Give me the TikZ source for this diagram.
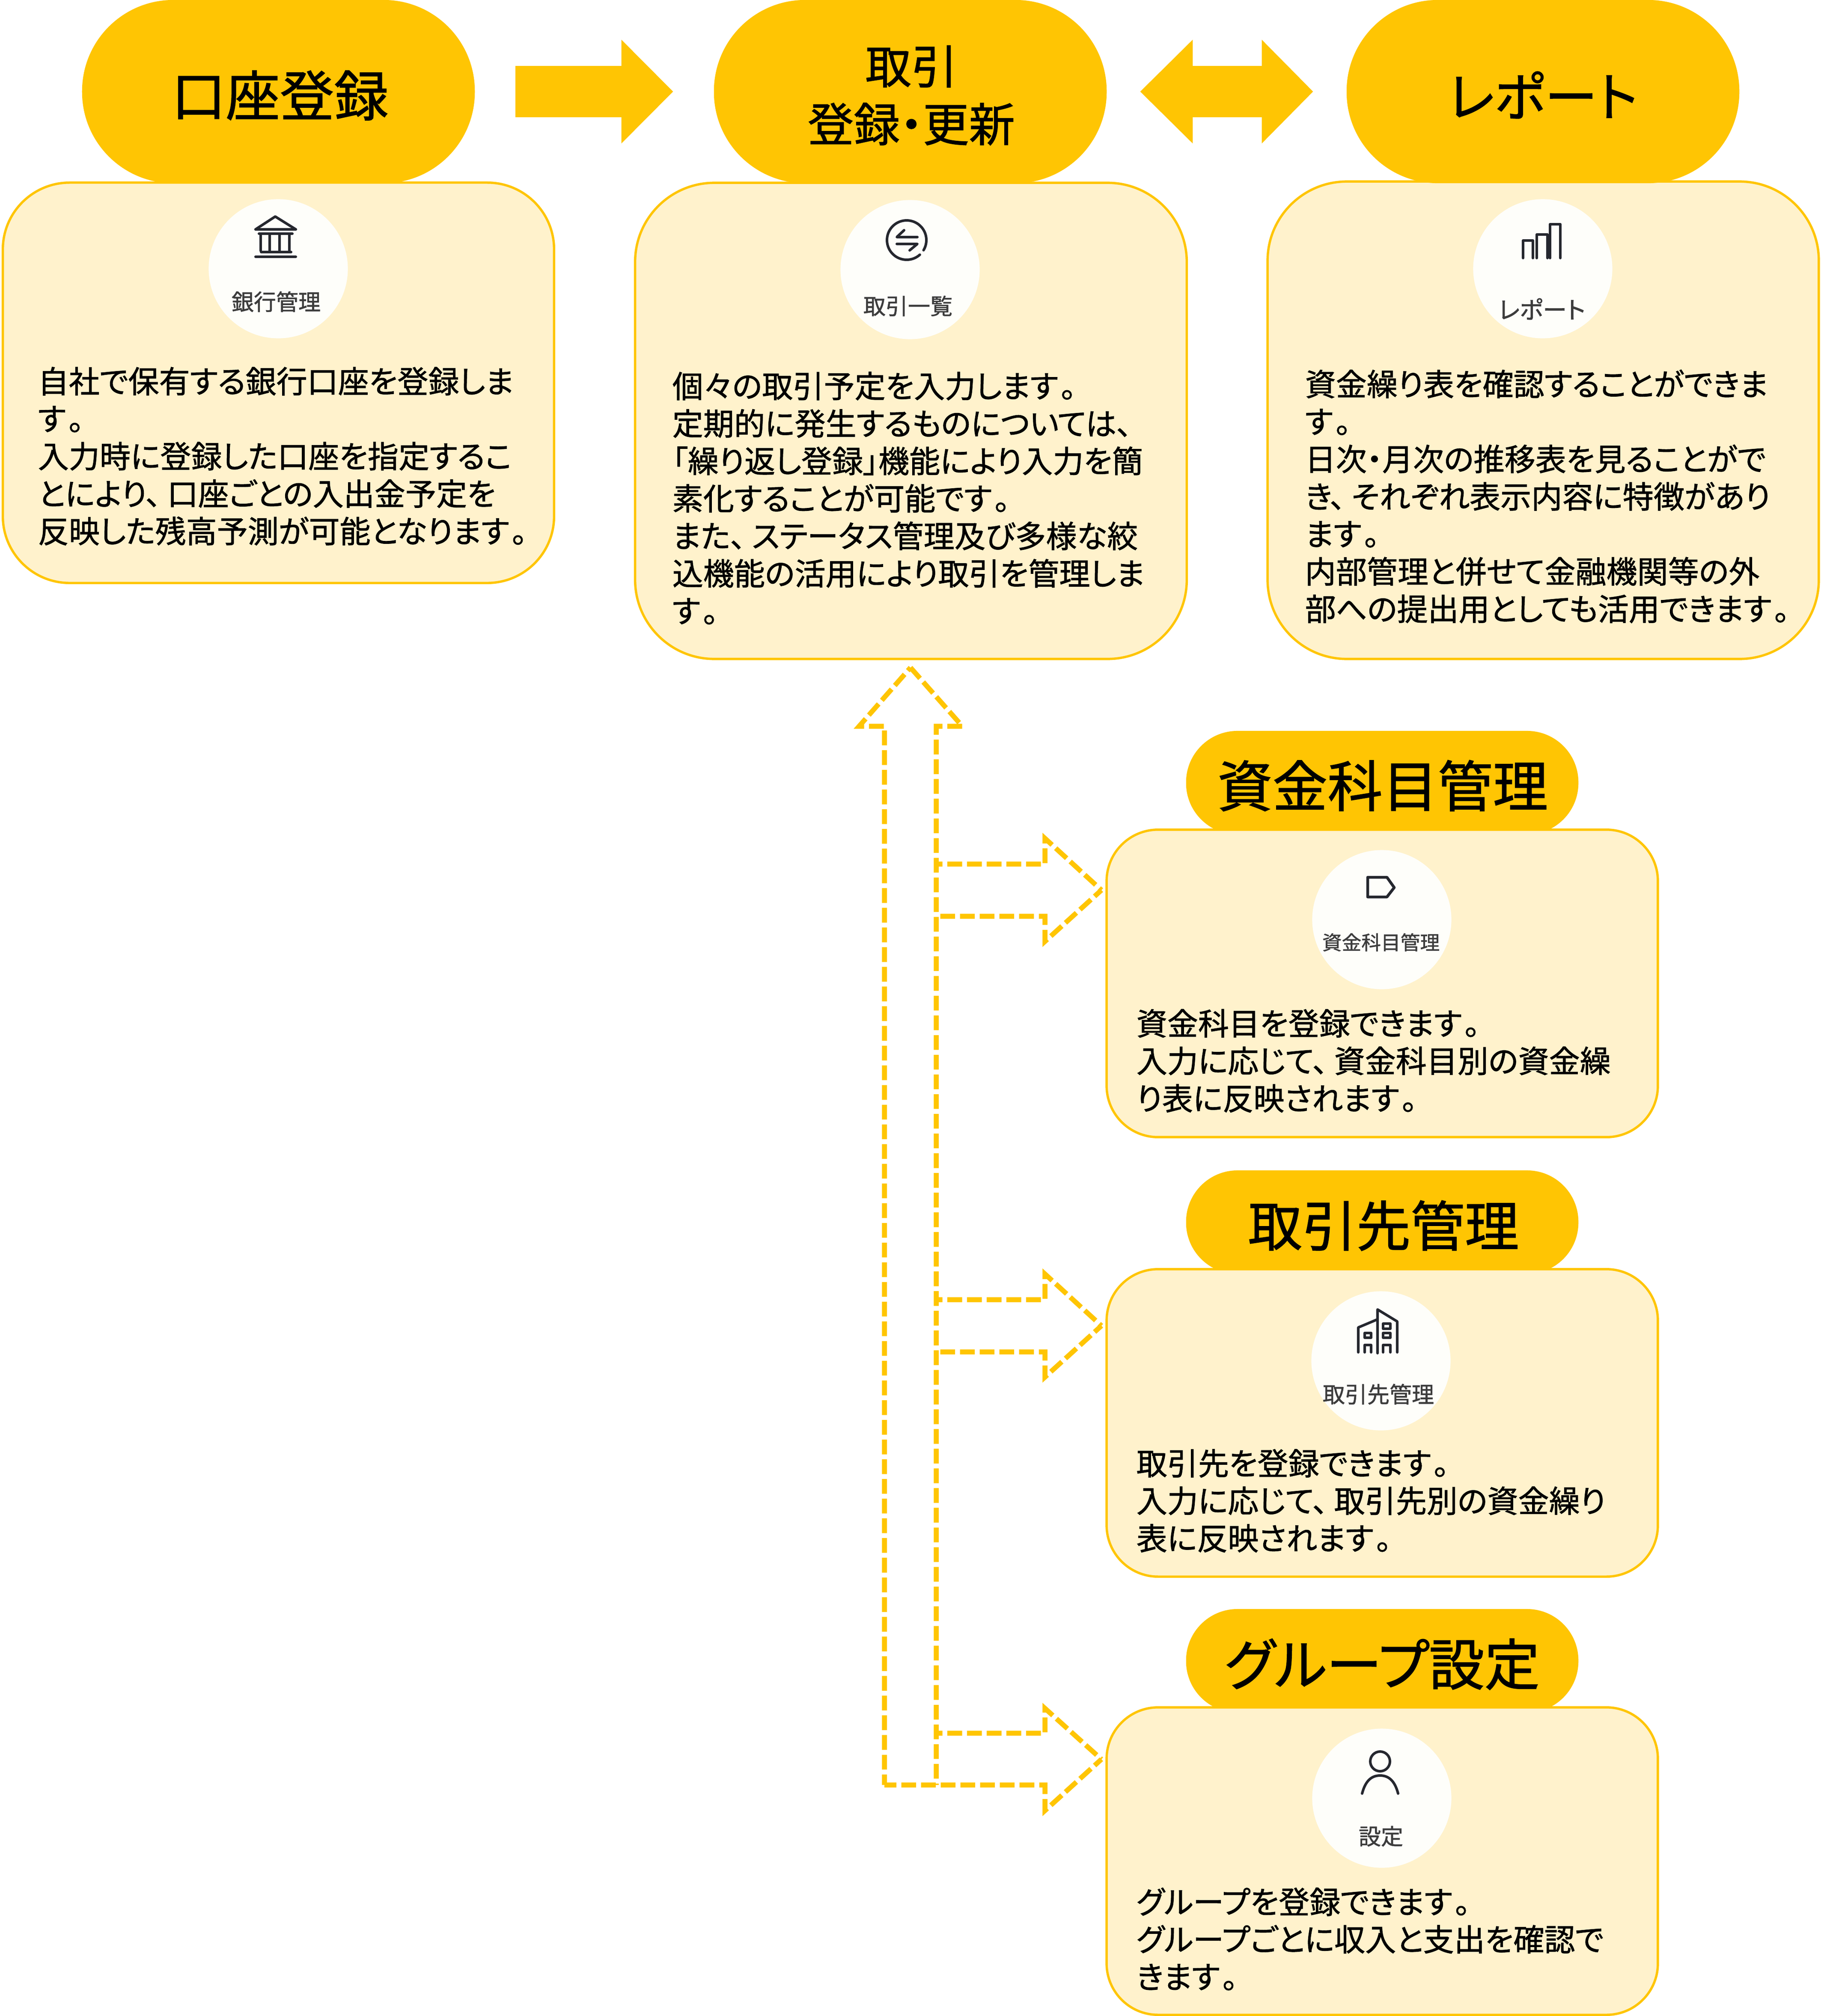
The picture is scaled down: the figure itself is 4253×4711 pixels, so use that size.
\documentclass[tikz,border=0pt]{standalone}
\usepackage{fontspec}
\setmainfont[RawFeature=+palt,FakeBold=1.2]{Noto Sans CJK JP}
\usetikzlibrary{arrows.meta}
\definecolor{gold}{HTML}{FFC503}
\definecolor{cream}{HTML}{FFF2CC}
\definecolor{disc}{HTML}{FEFEFA}
\definecolor{ink}{HTML}{25272E}
\definecolor{lab}{HTML}{3C3C3C}
\newcommand{\ten}{、\kern0.2em}
\newcommand{\maru}{\kern0.08em。}
\tikzset{
  x=0.01cm,y=-0.01cm,
  pillbig/.style={fill=gold,rectangle,inner sep=0pt,outer sep=0pt,minimum width=9.17cm,minimum height=4.28cm,rounded corners=2.13cm},
  pillsmall/.style={fill=gold,rectangle,inner sep=0pt,outer sep=0pt,minimum width=9.16cm,minimum height=2.42cm,rounded corners=1.2cm},
  cardbase/.style={draw=gold,fill=cream,line width=0.055cm,rectangle,inner sep=0pt,outer sep=0pt},
  disc/.style={fill=disc,circle,inner sep=0pt,outer sep=0pt,minimum size=3.25cm},
  body/.style={anchor=west,align=left,inner sep=0pt,font=\fontsize{20.5pt}{24.9pt}\selectfont},
  pilltext/.style={inner sep=0pt,align=center,text=black},
  lab/.style={inner sep=0pt,text=lab,font=\fontsize{14.8pt}{16pt}\selectfont},
  icon/.style={draw=ink,line width=0.06cm,line join=round,line cap=round},
  flow/.style={draw=gold,line width=1.2cm},
  dashflow/.style={draw=gold,line width=0.115cm,dash pattern=on 0.345cm off 0.115cm,line join=miter},
}
\begin{document}
\begin{tikzpicture}
\useasboundingbox (0,0) rectangle (4253,4711);
% lower headers
\node[pillsmall] (p4) at (3229,1829) {};
\node[pillsmall] (p5) at (3229,2856) {};
\node[pillsmall] (p6) at (3229,3881) {};
% cards
\node[cardbase,minimum width=12.87cm,minimum height=9.35cm,rounded corners=1.56cm] (b1) at (650.5,894.5) {};
\node[cardbase,minimum width=12.88cm,minimum height=11.12cm,rounded corners=1.85cm] (b2) at (2128,983.5) {};
\node[cardbase,minimum width=12.87cm,minimum height=11.15cm,rounded corners=1.85cm] (b3) at (3605,982) {};
\node[cardbase,minimum width=12.87cm,minimum height=7.18cm,rounded corners=1.2cm] (b4) at (3229,2298) {};
\node[cardbase,minimum width=12.87cm,minimum height=7.18cm,rounded corners=1.2cm] (b5) at (3229,3325) {};
\node[cardbase,minimum width=12.87cm,minimum height=7.18cm,rounded corners=1.2cm] (b6) at (3229,4349) {};
% top headers
\node[pillbig] (p1) at (650.5,214) {};
\node[pillbig] (p2) at (2126.5,214) {};
\node[pillbig] (p3) at (3604.5,214) {};
% header texts
\node[pilltext,font=\fontsize{36pt}{40pt}\selectfont] (t1) at (654,223) {口座登録};
\node[pilltext,font=\fontsize{30.6pt}{38.4pt}\selectfont] (t2) at (2129,223) {取引\\登録・更新};
\node[pilltext,font=\fontsize{35pt}{40pt}\selectfont] (t3) at (3604,222) {レポート};
\node[pilltext,font=\fontsize{36.6pt}{40pt}\selectfont] (t4) at (3230,1836) {資金科目管理};
\node[pilltext,font=\fontsize{36pt}{40pt}\selectfont] (t5) at (3232,2864) {取引先管理};
\node[pilltext,font=\fontsize{36.8pt}{40pt}\selectfont] (t6) at (3229,3889) {グループ設定};
% block arrows
\draw[flow,-{Triangle[length=1.21cm,width=2.35cm]},shorten <=0.95cm,shorten >=0.95cm] (p1) -- (p2);
\draw[flow,{Triangle[length=1.23cm,width=2.35cm]}-{Triangle[length=1.20cm,width=2.35cm]},shorten <=0.78cm,shorten >=0.78cm] (p2) -- (p3);
% discs and labels
\node[disc] (d1) at (650,628) {};
\node[disc] (d2) at (2126,630) {};
\node[disc] (d3) at (3604,628) {};
\node[disc] (d4) at (3228,2149) {};
\node[disc] (d5) at (3226,3180) {};
\node[disc] (d6) at (3228,4202) {};
\node[lab] (l1) at (645,705) {銀行管理};
\node[lab] (l2) at (2121,715) {取引一覧};
\node[lab,font=\fontsize{16pt}{18pt}\selectfont] (l3) at (3602,722) {レポート};
\node[lab,font=\fontsize{13pt}{15pt}\selectfont] (l4) at (3226,2202) {資金科目管理};
\node[lab] (l5) at (3220,3258) {取引先管理};
\node[lab] (l6) at (3226,4291) {設定};
% bank icon
\draw[icon] (597,536) -- (643,506) -- (691,536) -- cycle;
\draw[icon] (605,546) -- (683,546);
\foreach \cx in {609,630,653,676} \draw[icon] (\cx,548) -- (\cx,586);
\draw[icon] (610,589) -- (680,589);
\draw[icon] (597,600) -- (691,600);
% exchange icon
\draw[icon] (2148.8,595.2) arc[start angle=48,end angle=391,radius=46];
\draw[icon] (2112,538) -- (2095,554) -- (2143,554);
\draw[icon] (2095,570) -- (2143,570) -- (2125,585);
% chart icon
\draw[icon] (3558,603) -- (3558,562) -- (3581,562) -- (3581,603);
\draw[icon] (3590,603) -- (3590,548) -- (3615,548) -- (3615,603);
\draw[icon] (3621,603) -- (3621,524) -- (3645,524) -- (3645,603);
% tag icon
\draw[icon,line width=0.065cm] (3195,2050) -- (3240,2050) -- (3257,2074) -- (3240,2096) -- (3195,2096) -- cycle;
% building icon
\draw[icon] (3218,3162) -- (3218,3060) -- (3264,3088) -- (3264,3160);
\draw[icon] (3218,3083) -- (3173,3102) -- (3173,3160);
\draw[icon] (3188,3115) rectangle (3203,3126);
\draw[icon] (3231,3093) rectangle (3248,3105);
\draw[icon] (3231,3115) rectangle (3248,3126);
\draw[icon] (3188,3160) -- (3188,3143) -- (3203,3143) -- (3203,3160);
\draw[icon] (3231,3160) -- (3231,3143) -- (3248,3143) -- (3248,3160);
% person icon
\draw[icon] (3224,4116) circle[radius=23];
\draw[icon] (3182,4191) .. controls (3190,4160) and (3205,4149) .. (3224,4149) .. controls (3243,4149) and (3258,4160) .. (3266,4191);
% dashed arrows
\draw[dashflow,dash phase=0.01cm] (2127,1560) -- (2248,1697) -- (2187,1697) -- (2187,4171);
\draw[dashflow,dash phase=0.10cm] (2066,4171) -- (2066,1697) -- (2007,1697) -- (2127,1560);
\draw[dashflow,dash phase=0.13cm] (2573,2080) -- (2441,2200) -- (2441,2141) -- (2187,2141);
\draw[dashflow,dash phase=0.20cm] (2187,2019) -- (2441,2019) -- (2441,1959) -- (2573,2080);
\draw[dashflow,dash phase=0.13cm] (2573,3098) -- (2441,3218) -- (2441,3159) -- (2187,3159);
\draw[dashflow,dash phase=0.20cm] (2187,3037) -- (2441,3037) -- (2441,2977) -- (2573,3098);
\draw[dashflow,dash phase=0.13cm] (2573,4111) -- (2441,4231) -- (2441,4171) -- (2066,4171);
\draw[dashflow,dash phase=0.20cm] (2187,4050) -- (2441,4050) -- (2441,3992) -- (2573,4111);
% body texts
\node[body] (x1) at (88,1066) {自社で保有する銀行口座を登録しま\\す\maru\\入力時に登録した口座を指定するこ\\とにより\ten 口座ごとの入出金予定を\\反映した残高予測が可能となります\maru};
\node[body] (x2) at (1570,1164) {個々の取引予定を入力します\maru\\定期的に発生するものについては\ten\\「繰り返し登録」機能により入力を簡\\素化することが可能です\maru\\また\ten ステータス管理及び多様な絞\\込機能の活用により取引を管理しま\\す\maru};
\node[body] (x3) at (3048,1160) {資金繰り表を確認することができま\\す\maru\\日次・月次の推移表を見ることがで\\き\ten それぞれ表示内容に特徴があり\\ます\maru\\内部管理と併せて金融機関等の外\\部への提出用としても活用できます\maru};
\node[body] (x4) at (2654,2479) {資金科目を登録できます\maru\\入力に応じて\ten 資金科目別の資金繰\\り表に反映されます\maru};
\node[body] (x5) at (2654,3507) {取引先を登録できます\maru\\入力に応じて\ten 取引先別の資金繰り\\表に反映されます\maru};
\node[body] (x6) at (2654,4531) {グループを登録できます\maru\\グループごとに収入と支出を確認で\\きます\maru};
\end{tikzpicture}
\end{document}
